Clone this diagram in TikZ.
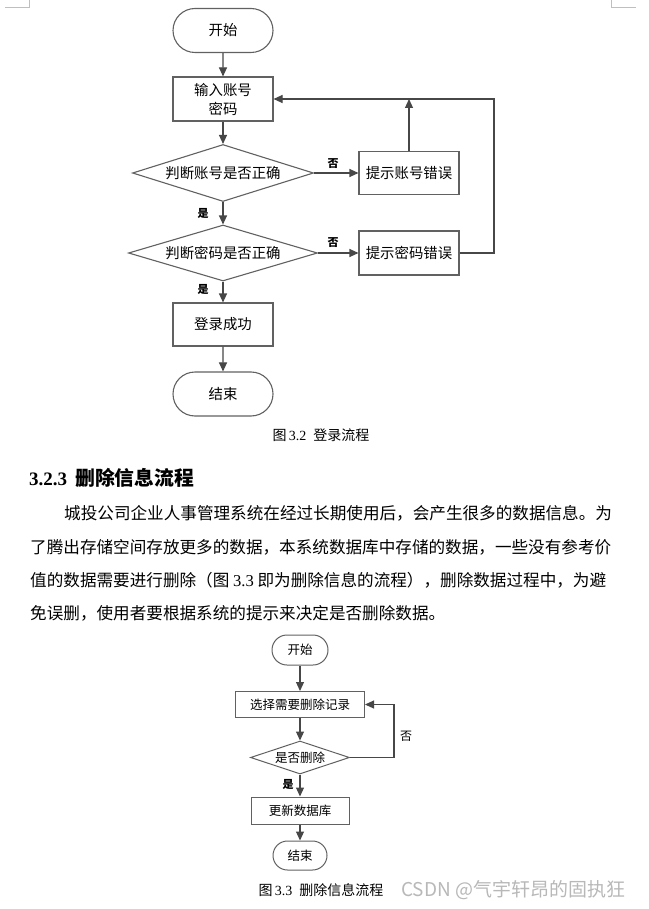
\documentclass[tikz,border=0pt]{standalone}
\usepackage{fontspec}
\setmainfont{Liberation Serif}
\newfontfamily\cjk{Noto Sans CJK SC}
\usetikzlibrary{arrows.meta,shapes.geometric,shapes.misc}

\begin{document}
\begin{tikzpicture}[
    x=1pt,y=-1pt,
    every node/.style={font=\cjk\fontsize{14.4}{19}\selectfont, inner sep=0pt},
    outline/.style={draw=black!62, line width=1.1pt},
    terminal/.style={outline, rounded rectangle, minimum width=100pt, minimum height=44pt},
    process/.style={outline, rectangle, minimum width=100pt, minimum height=44pt, align=center},
    decision/.style={outline, diamond, aspect=3.2},
    flow/.style={draw=black!72, line width=1.1pt, -{Triangle[length=9pt,width=8pt]}},
    small/.style={font=\cjk\fontsize{12.5}{14}\selectfont, line width=1pt},
    tag/.style={font=\cjk\bfseries\fontsize{11}{12}\selectfont},
    caption/.style={font=\cjk\fontsize{14}{16}\selectfont},
    para/.style={font=\cjk\fontsize{16.6}{20}\selectfont, anchor=base west},
    corner/.style={draw=black!25, line width=0.8pt}
]
    \fill[white] (0,0) rectangle (648,909);
    \useasboundingbox (0,0) rectangle (648,909);
    \draw[corner] (5,7) -- (29,7) -- (29,0);
    \draw[corner] (611,0) -- (611,7) -- (636,7);

    \node[terminal] (start1) at (223,30.5) {开始};
    \node[process] (input1) at (223,99) {输入账号\\密码};
    \node[decision, minimum width=181pt, minimum height=57pt] (check1) at (223,173) {判断账号是否正确};
    \node[process, minimum height=43pt] (hint1) at (409,173) {提示账号错误};
    \node[decision, minimum width=189pt, minimum height=56pt] (check2) at (223,253) {判断密码是否正确};
    \node[process] (hint2) at (409,253) {提示密码错误};
    \node[process, minimum height=43pt] (success) at (223,324.5) {登录成功};
    \node[terminal] (end1) at (223,394) {结束};
    \coordinate (loop1) at (494,99);

    \draw[flow] (start1) -- (input1);
    \draw[flow] (input1) -- (check1);
    \draw[flow] (check1) -- (check2);
    \draw[flow] (check2) -- (success);
    \draw[flow] (success) -- (end1);
    \draw[flow] (check1) -- (hint1);
    \draw[flow] (check2) -- (hint2);
    \draw[flow] (hint1) -- (hint1 |- input1.east);
    \draw[flow] (hint2) -| (loop1) -- (input1);

    \node[tag] (no1) at (333,164) {否};
    \node[tag] (no2) at (333,243) {否};
    \node[tag] (yes1) at (203,213) {是};
    \node[tag] (yes2) at (203,289) {是};
    \node[caption] (cap1) at (321,435) {图\,{\rmfamily 3.2}\hspace{7pt}登录流程};

    \node[anchor=base west, font=\rmfamily\bfseries\fontsize{19}{22}\selectfont] (head) at (29,485)
        {3.2.3\hspace{8pt}{\cjk\bfseries\fontsize{19.8}{22}\selectfont 删除信息流程}};
    \foreach \yy/\xx/\txt [count=\i] in {
        519/64/{城投公司企业人事管理系统在经过长期使用后，会产生很多的数据信息。为},
        553/30/{了腾出存储空间存放更多的数据，本系统数据库中存储的数据，一些没有参考价},
        586/30/{值的数据需要进行删除（图 {\rmfamily 3.3} 即为删除信息的流程），删除数据过程中，为避},
        619/30/{免误删，使用者要根据系统的提示来决定是否删除数据。}} {
        \node[para] (line\i) at (\xx,\yy) {\txt};
    }

    \node[terminal, small, minimum width=56pt, minimum height=30pt] (start2) at (300,650) {开始};
    \node[process, small, minimum width=129pt, minimum height=26pt] (select) at (300,704.5) {选择需要删除记录};
    \node[decision, small, minimum width=99pt, minimum height=33pt, aspect=3] (check3) at (300,757.5) {是否删除};
    \node[process, small, minimum width=98pt, minimum height=27pt] (update) at (300,810.5) {更新数据库};
    \node[terminal, small, minimum width=54pt, minimum height=29pt] (end2) at (300,855.5) {结束};
    \coordinate (loop2) at (394,704.5);

    \draw[flow] (start2) -- (select);
    \draw[flow] (select) -- (check3);
    \draw[flow] (check3) -- (update);
    \draw[flow] (update) -- (end2);
    \draw[flow] (check3) -| (loop2) -- (select);

    \node[tag, font=\cjk\fontsize{12}{13}\selectfont] (no3) at (406,736) {否};
    \node[tag] (yes3) at (288,784) {是};
    \node[caption] (cap2) at (321,890) {图\,{\rmfamily 3.3}\hspace{7pt}删除信息流程};
    \node[anchor=west, text=black!28, font=\cjk\fontsize{19}{21}\selectfont] (wmark) at (401,890) {CSDN @气宇轩昂的固执狂};
\end{tikzpicture}
\end{document}
